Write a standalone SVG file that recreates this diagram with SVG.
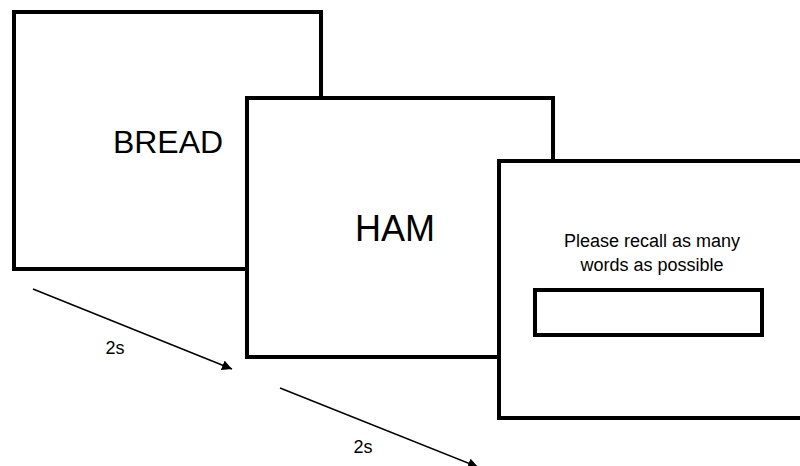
<svg xmlns="http://www.w3.org/2000/svg" width="800" height="466" viewBox="0 0 800 466">
  <defs>
    <marker id="arrowhead" viewBox="0 0 10 10" refX="10" refY="5" markerWidth="10" markerHeight="10" markerUnits="userSpaceOnUse" orient="auto">
      <path d="M0,0 L10,5 L0,10 z" fill="#000"/>
    </marker>
    <style>
      .screen { fill: #fff; stroke: #000; stroke-width: 4; stroke-linejoin: miter; }
      .word { font-family: "Liberation Sans", Arial, sans-serif; fill: #000; text-anchor: middle; }
      .small { font-family: "Liberation Sans", Arial, sans-serif; font-size: 18px; fill: #000; text-anchor: middle; }
      .link { stroke: #000; stroke-width: 1.5; fill: none; marker-end: url(#arrowhead); }
    </style>
  </defs>
  <rect width="800" height="466" fill="#fff"/>

  <g id="screen-bread">
    <rect class="screen" x="14" y="12" width="307" height="257"/>
    <text class="word" x="168" y="153" font-size="32">BREAD</text>
  </g>

  <g id="screen-ham">
    <rect class="screen" x="247" y="98" width="306" height="259"/>
    <text class="word" x="395" y="241" font-size="36">HAM</text>
  </g>

  <g id="screen-recall">
    <rect class="screen" x="499" y="161" width="320" height="257"/>
    <text class="small" x="652" y="247">Please recall as many</text>
    <text class="small" x="652" y="271">words as possible</text>
    <rect class="screen" x="535" y="290" width="227" height="45" stroke-width="3.5"/>
  </g>

  <g id="connectors">
    <line class="link" x1="33" y1="289" x2="232" y2="369"/>
    <text class="small" x="115" y="354">2s</text>
    <line class="link" x1="280" y1="388" x2="478" y2="467"/>
    <text class="small" x="363" y="453">2s</text>
  </g>
</svg>
